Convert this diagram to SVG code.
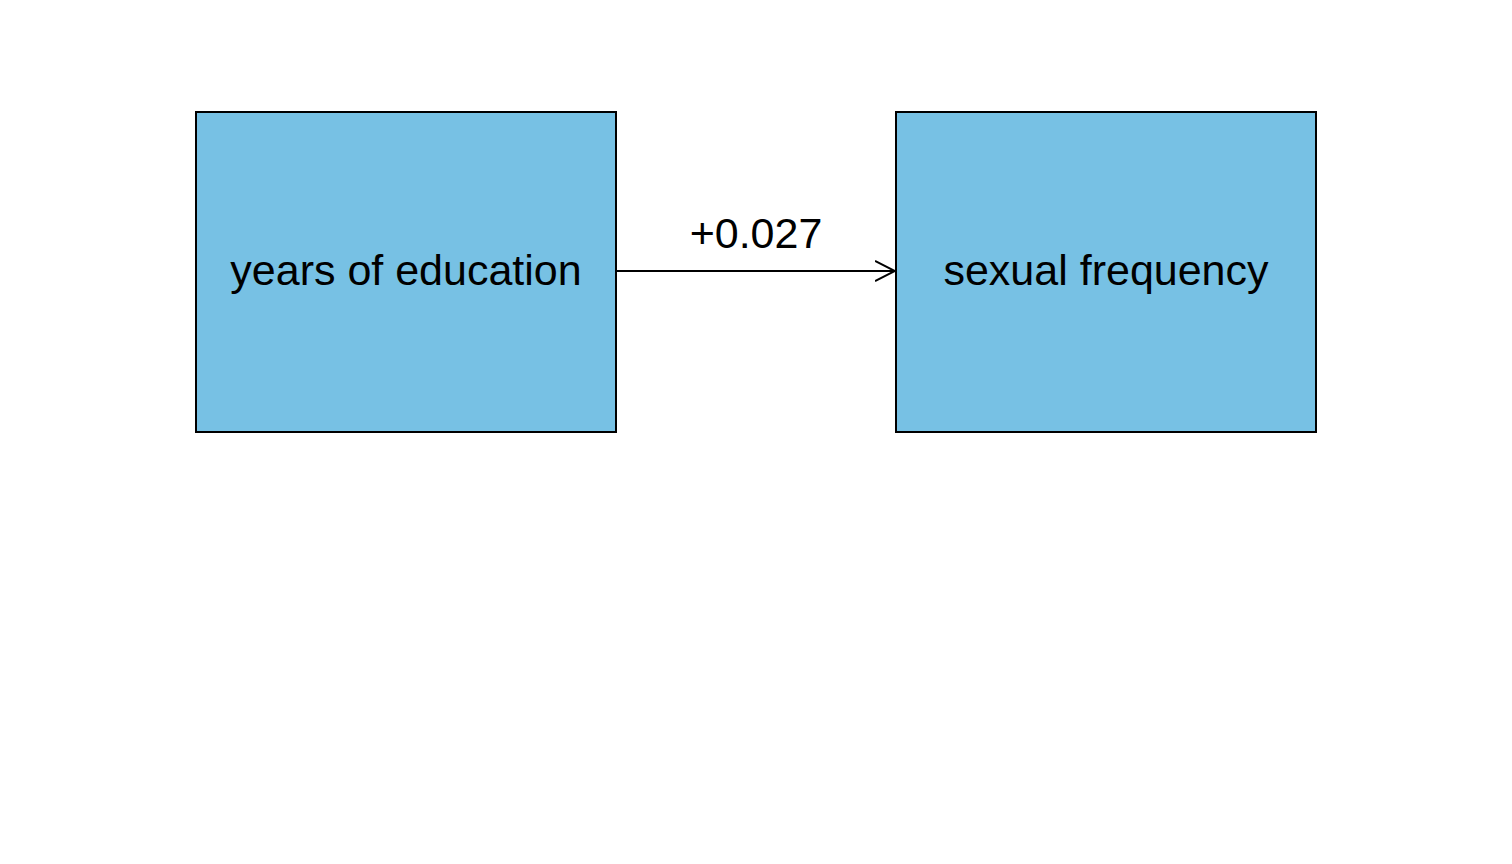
<svg xmlns="http://www.w3.org/2000/svg" width="1512" height="864" viewBox="0 0 1512 864">
<style>
.box{fill:#77c1e4;stroke:#000;stroke-width:2}
.t{font-family:"Liberation Sans",Arial,sans-serif;font-size:43px;fill:#000;text-anchor:middle}
.c{stroke:#000;stroke-width:2;fill:none}
</style>
<defs>
<marker id="ah" markerWidth="22" markerHeight="24" refX="20" refY="12" orient="auto" markerUnits="userSpaceOnUse">
<path d="M0,2 L20,12 L0,22" fill="none" stroke="#000" stroke-width="2"/>
</marker>
</defs>
<rect width="1512" height="864" fill="#fff"/>
<g id="connectors">
<line class="c" x1="616" y1="271" x2="895" y2="271" marker-end="url(#ah)"/>
<text class="t" x="756" y="248">+0.027</text>
</g>
<g id="node-education">
<rect class="box" x="196" y="112" width="420" height="320"/>
<text class="t" x="406" y="285">years of education</text>
</g>
<g id="node-sexual">
<rect class="box" x="896" y="112" width="420" height="320"/>
<text class="t" x="1106" y="285">sexual frequency</text>
</g>
</svg>
